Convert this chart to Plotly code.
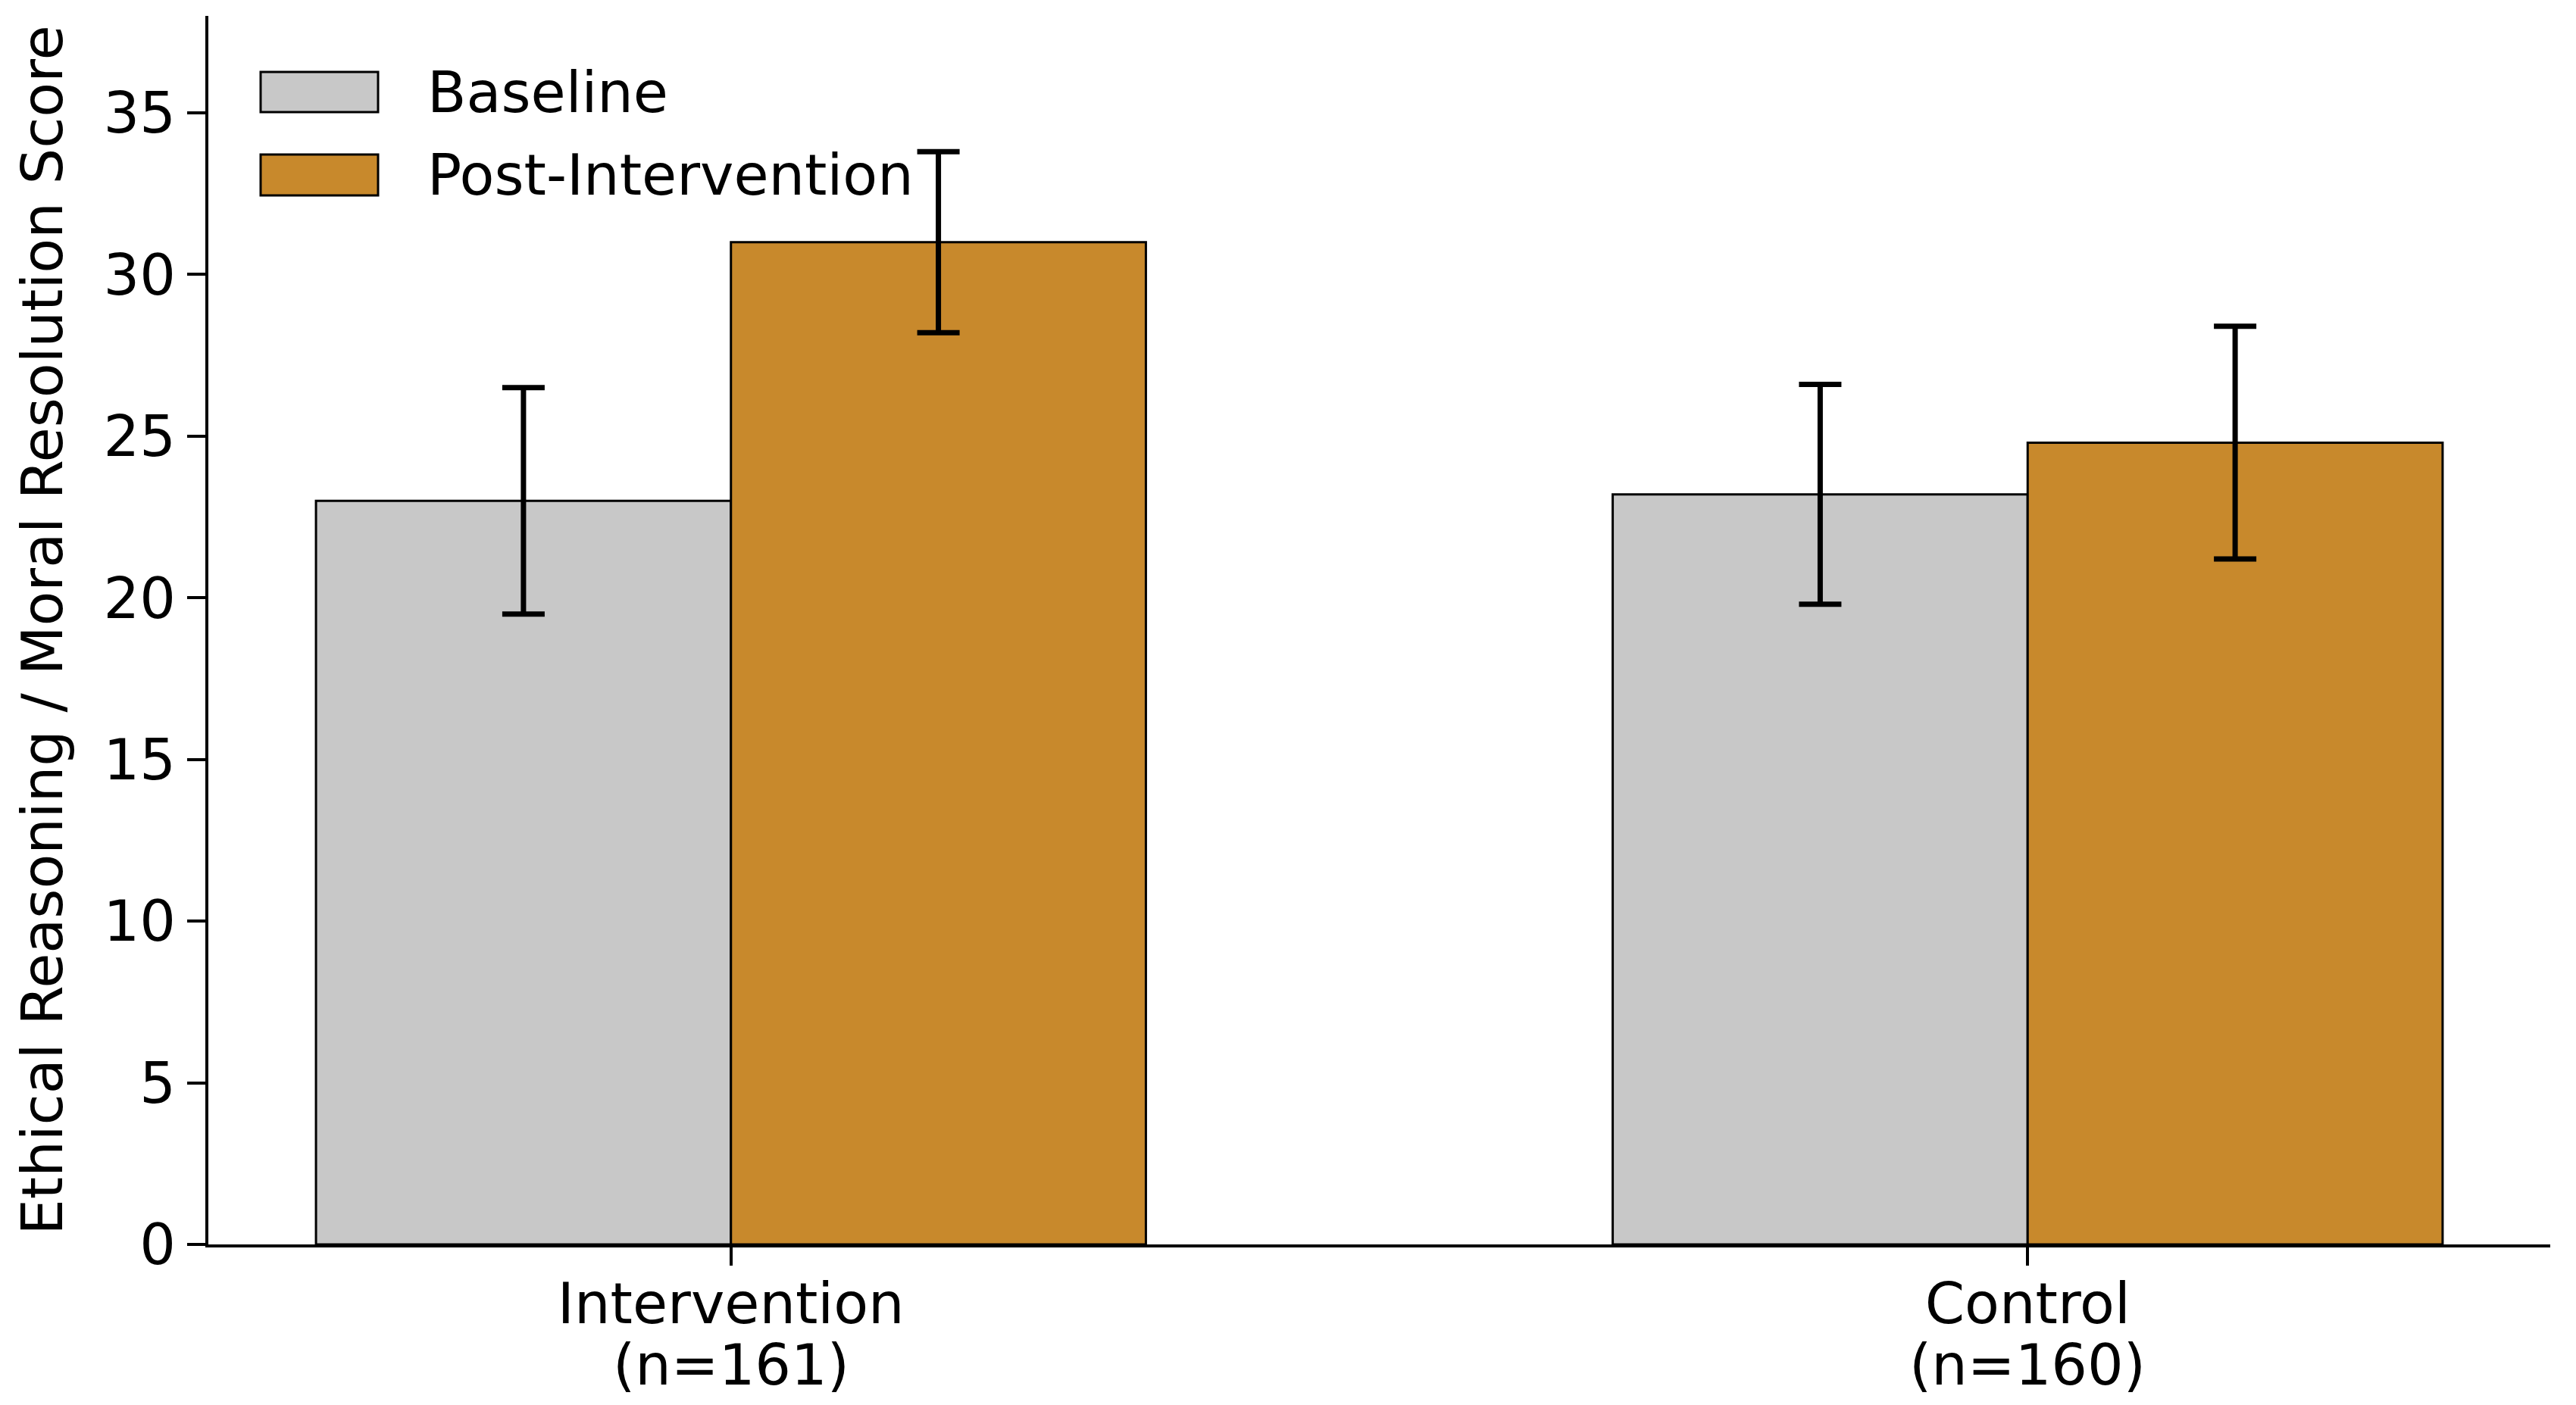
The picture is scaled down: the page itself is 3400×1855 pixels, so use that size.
import plotly.graph_objects as go

# ---- data ----
groups = ["Intervention", "Control"]
group_n = ["(n=161)", "(n=160)"]
series_names = ["Baseline", "Post-Intervention"]
baseline_mean = [23.0, 23.2]
baseline_err = [3.5, 3.4]
post_mean = [31.0, 24.8]
post_err = [2.8, 3.6]
y_ticks = [0, 5, 10, 15, 20, 25, 30, 35]
y_title = "Ethical Reasoning / Moral Resolution Score"

# ---- style ----
colors = ["#C8C8C8", "#C8892C"]
FONT = "DejaVu Sans"
FS = 75

fig = go.Figure()
for name, means, errs, col in zip(series_names, [baseline_mean, post_mean],
                                  [baseline_err, post_err], colors):
    fig.add_trace(go.Bar(
        x=groups, y=means, name=name,
        marker=dict(color=col, line=dict(color="black", width=3)),
        error_y=dict(type="data", array=errs, visible=True,
                     color="black", thickness=7, width=28),
        showlegend=False,
    ))

# plot area in pixels: x 275..3366, y 21..1643
W, H = 3400, 1855
L, R, T, B = 275, 3366, 21, 1643
pw, ph = R - L, B - T

def px(xp):
    return (xp - L) / pw

def py(yp):
    return (B - yp) / ph

# custom legend (large patches like the reference)
legend_rows = [(95, 148), (204, 258)]
for (y0, y1), name, col in zip(legend_rows, series_names, colors):
    fig.add_shape(type="rect", xref="paper", yref="paper",
                  x0=px(344), x1=px(499), y0=py(y1), y1=py(y0),
                  fillcolor=col, line=dict(color="black", width=3))
    fig.add_annotation(xref="paper", yref="paper", x=px(562), y=py((y0 + y1) / 2),
                       text=name, showarrow=False, xanchor="left", yanchor="middle",
                       font=dict(family=FONT, size=FS, color="black"))

# second line of the category labels (sample sizes)
for g, n in zip(groups, group_n):
    fig.add_annotation(xref="x", yref="paper", x=g, y=0, yshift=-159,
                       text=n, showarrow=False, xanchor="center", yanchor="middle",
                       font=dict(family=FONT, size=FS, color="black"))

fig.update_layout(
    width=W, height=H,
    margin=dict(l=L, r=W - R, t=T, b=H - B, pad=0),
    paper_bgcolor="white", plot_bgcolor="white",
    barmode="group", bargap=0.36, bargroupgap=0,
    font=dict(family=FONT, size=FS, color="black"),
)
fig.update_xaxes(
    range=[-0.403, 1.403], automargin=False,
    showline=True, linecolor="black", linewidth=4,
    ticks="outside", ticklen=24, tickwidth=4, tickcolor="black",
    ticklabelstandoff=-14,
    showgrid=False, zeroline=False,
    tickfont=dict(family=FONT, size=FS, color="black"),
)
fig.update_yaxes(
    range=[0, 38], automargin=False,
    tickvals=y_ticks, ticktext=[str(v) for v in y_ticks],
    showline=True, linecolor="black", linewidth=4,
    ticks="outside", ticklen=24, tickwidth=4, tickcolor="black",
    showgrid=False, zeroline=False,
    tickfont=dict(family=FONT, size=FS, color="black"),
    title=dict(text=y_title, font=dict(family=FONT, size=FS, color="black"), standoff=30),
)

fig.write_html("out.html")
